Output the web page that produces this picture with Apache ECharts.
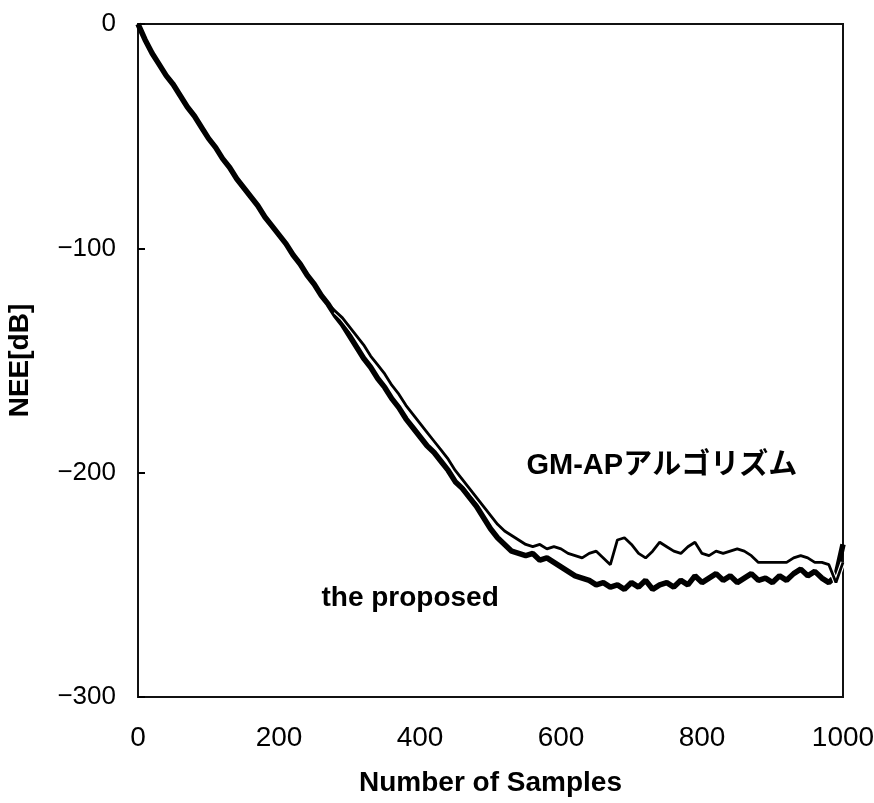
<!DOCTYPE html>
<html>
<head>
<meta charset="utf-8">
<script src="https://cdn.jsdelivr.net/npm/echarts@6/dist/echarts.min.js"></script>
<style>
  html, body { margin: 0; padding: 0; background: #fff; }
  #chart { width: 874px; height: 803px; }
</style>
</head>
<body>
<div id="chart"></div>
<script>
// Sample index (every 10 samples)
const samples = [];
for (let n = 0; n <= 1000; n += 10) samples.push(n);

// NEE learning curve of the proposed method [dB]
const proposed = [
  0, -7, -13, -18, -23, -27, -32, -37, -41, -46,
  -51, -55, -60, -64, -69, -73, -77, -81, -86, -90,
  -94, -98, -103, -107, -112, -116, -121, -125, -130, -134,
  -139, -144, -149, -153, -158, -162, -167, -171, -176, -180,
  -184, -188, -191, -195, -199, -204, -207, -211, -215, -220,
  -225, -229, -232, -235, -236, -237, -236, -239, -238, -240,
  -242, -244, -246, -247, -248, -250, -249, -251, -250, -252,
  -249, -251, -248, -252, -250, -249, -251, -248, -250, -246,
  -249, -247, -245, -248, -246, -249, -247, -245, -248, -247,
  -249, -246, -248, -245, -243, -246, -244, -247, -249, -246,
  -232
];

// NEE learning curve of the GM-AP algorithm [dB]
const gmap = [
  0, -7, -13, -18, -23, -27, -32, -37, -41, -46,
  -51, -55, -60, -64, -69, -73, -77, -81, -86, -90,
  -94, -98, -103, -107, -112, -116, -121, -125, -128, -131,
  -135, -139, -143, -148, -152, -156, -161, -165, -170, -174,
  -178, -182, -186, -190, -194, -199, -203, -207, -211, -215,
  -219, -223, -226, -228, -230, -232, -233, -232, -234, -233,
  -234, -236, -237, -238, -236, -235, -238, -241, -230, -229,
  -232, -236, -238, -235, -231, -233, -235, -236, -233, -231,
  -236, -237, -235, -236, -235, -234, -235, -237, -240, -240,
  -240, -240, -240, -238, -237, -238, -240, -240, -241, -249,
  -240
];

const xTicks = [0, 200, 400, 600, 800, 1000];
const yTicks = [0, -100, -200, -300];

const labelGMAP = { text: 'GM-APアルゴリズム', at: [743, -197] };
const labelProposed = { text: 'the proposed', at: [386, -256] };

const chart = echarts.init(document.getElementById('chart'));
const pairs = (ys) => samples.map((x, i) => [x, ys[i]]);
// the white gap around the GM-AP curve only shows where the two curves part
const gmapHalo = samples.map((x, i) => [x, gmap[i] !== proposed[i] ? gmap[i] : null]);
const fmt = (v) => (v < 0 ? '\u2212' + Math.abs(v) : String(v));
const fontTick = '"Liberation Sans", Arial, sans-serif';
const fontBold = '"Liberation Sans", "Noto Sans CJK JP", Arial, sans-serif';

chart.setOption({
  animation: false,
  backgroundColor: '#fff',
  grid: {
    left: 138, right: 31, top: 24, bottom: 106,
    outerBoundsMode: 'none', containLabel: false,
    show: true, borderColor: '#111', borderWidth: 2, backgroundColor: 'transparent'
  },
  xAxis: {
    type: 'value', min: 0, max: 1000, interval: 200,
    axisLine: { show: false },
    axisTick: { show: false },
    splitLine: { show: false },
    axisLabel: { color: '#000', fontSize: 28, fontFamily: fontTick, margin: 27, formatter: fmt },
    name: 'Number of Samples', nameLocation: 'middle', nameGap: 72,
    nameTextStyle: { color: '#000', fontSize: 28, fontWeight: 'bold', fontFamily: fontBold }
  },
  yAxis: {
    type: 'value', min: -300, max: 0, interval: 100,
    axisLine: { show: false },
    axisTick: { show: true, inside: true, length: 7, lineStyle: { color: '#000', width: 2 } },
    splitLine: { show: false },
    axisLabel: { color: '#000', fontSize: 26, fontFamily: fontTick, margin: 22, formatter: fmt },
    name: 'NEE[dB]', nameLocation: 'middle', nameGap: 104, nameRotate: 90,
    nameTextStyle: { color: '#000', fontSize: 28, fontWeight: 'bold', fontFamily: fontBold }
  },
  series: [
    {
      name: 'proposed', type: 'line', data: pairs(proposed), showSymbol: false,
      lineStyle: { color: '#000', width: 5.5 }, z: 2
    },
    {
      name: 'gap', type: 'line', data: gmapHalo, showSymbol: false, connectNulls: false,
      lineStyle: { color: '#fff', width: 5 }, z: 3, silent: true
    },
    {
      name: 'GM-AP', type: 'line', data: pairs(gmap), showSymbol: false,
      lineStyle: { color: '#000', width: 2.8 }, z: 4
    }
  ]
});

function placeLabels() {
  const items = [labelGMAP, labelProposed].map((l, k) => {
    const p = chart.convertToPixel({ gridIndex: 0 }, l.at);
    return {
      type: 'text', x: p[0], y: p[1],
      style: {
        text: l.text, fill: '#000', fontSize: k === 0 ? 29 : 28, fontWeight: 'bold',
        fontFamily: fontBold, align: 'center', verticalAlign: 'middle'
      }
    };
  });
  chart.setOption({ graphic: items });
}
placeLabels();
</script>
</body>
</html>
